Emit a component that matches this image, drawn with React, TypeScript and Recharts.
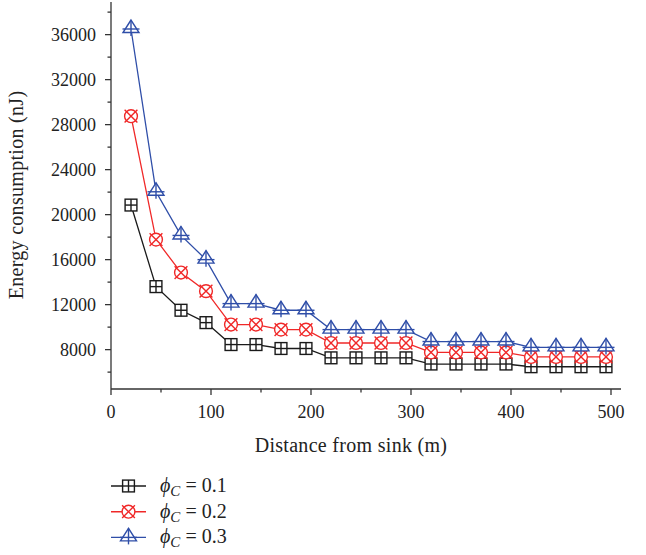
import React from 'react';
import { LineChart, Line, XAxis, YAxis, Legend, Label } from 'recharts';

const distances = [20, 45, 70, 95, 120, 145, 170, 195, 220, 245, 270, 295, 320, 345, 370, 395, 420, 445, 470, 495];
const phi01 = [20850, 13600, 11500, 10400, 8450, 8450, 8100, 8100, 7270, 7270, 7270, 7270, 6720, 6720, 6720, 6720, 6480, 6480, 6480, 6480];
const phi02 = [28750, 17780, 14850, 13200, 10230, 10230, 9780, 9780, 8590, 8590, 8590, 8590, 7750, 7750, 7750, 7750, 7350, 7350, 7350, 7350];
const phi03 = [36500, 22030, 18150, 16000, 12090, 12090, 11500, 11500, 9780, 9780, 9780, 9780, 8720, 8720, 8720, 8720, 8200, 8200, 8200, 8200];
const seriesLabels = ['0.1', '0.2', '0.3'];
const xTicks = [0, 50, 100, 150, 200, 250, 300, 350, 400, 450, 500];
const xMajorTicks = [0, 100, 200, 300, 400, 500];
const yTicks = [6000, 8000, 10000, 12000, 14000, 16000, 18000, 20000, 22000, 24000, 26000, 28000, 30000, 32000, 34000, 36000, 38000];
const yMajorTicks = [8000, 12000, 16000, 20000, 24000, 28000, 32000, 36000];

const data = distances.map((d, i) => ({ d, a: phi01[i], b: phi02[i], c: phi03[i] }));

const FONT = "'Liberation Serif', 'Times New Roman', serif";
const AXIS = '#333333';
const BLACK = '#1a1a1a';
const RED = '#f02828';
const BLUE = '#2f4ea8';

const SquareMark = ({ cx, cy, color }: any) => {
  const h = 5.9;
  return (
    <g>
      <rect x={cx - h} y={cy - h} width={2 * h} height={2 * h} fill="#fff" stroke={color} strokeWidth={1.4} />
      <line x1={cx - h} x2={cx + h} y1={cy} y2={cy} stroke={color} strokeWidth={1.4} />
      <line x1={cx} x2={cx} y1={cy - h} y2={cy + h} stroke={color} strokeWidth={1.4} />
    </g>
  );
};

const CircleMark = ({ cx, cy, color }: any) => {
  const r = 6.4;
  return (
    <g>
      <circle cx={cx} cy={cy} r={r} fill="#fff" stroke={color} strokeWidth={1.4} />
      <line x1={cx - r} x2={cx + r} y1={cy - r} y2={cy + r} stroke={color} strokeWidth={1.4} />
      <line x1={cx - r} x2={cx + r} y1={cy + r} y2={cy - r} stroke={color} strokeWidth={1.4} />
    </g>
  );
};

const TriMark = ({ cx, cy, color }: any) => {
  return (
    <g>
      <polygon points={`${cx},${cy - 9} ${cx - 8},${cy + 3.5} ${cx + 8},${cy + 3.5}`} fill="#fff" stroke={color} strokeWidth={1.4} />
      <line x1={cx - 8.5} x2={cx + 8.5} y1={cy} y2={cy} stroke={color} strokeWidth={1.4} />
      <line x1={cx} x2={cx} y1={cy - 9} y2={cy + 7} stroke={color} strokeWidth={1.4} />
    </g>
  );
};

const BottomTick = ({ x, y, payload }: any) => {
  const major = xMajorTicks.includes(payload.value);
  return (
    <g>
      <line x1={x} x2={x} y1={y} y2={y + (major ? 6 : 3.5)} stroke={AXIS} strokeWidth={1.3} />
      {major && (
        <text x={x} y={y + 29} textAnchor="middle" fontFamily={FONT} fontSize={18} fill="#222">
          {payload.value}
        </text>
      )}
    </g>
  );
};

const TopTick = ({ x, y, payload }: any) => {
  const major = xMajorTicks.includes(payload.value);
  return <line x1={x} x2={x} y1={y} y2={y + (major ? 6 : 3.5)} stroke={AXIS} strokeWidth={1.3} />;
};

const LeftTick = ({ x, y, payload }: any) => {
  const major = yMajorTicks.includes(payload.value);
  return (
    <g>
      <line x1={x} x2={x - (major ? 6 : 3.5)} y1={y} y2={y} stroke={AXIS} strokeWidth={1.3} />
      {major && (
        <text x={x - 15} y={y + 6} textAnchor="end" fontFamily={FONT} fontSize={18} fill="#222">
          {payload.value}
        </text>
      )}
    </g>
  );
};

const RightTick = ({ x, y, payload }: any) => {
  const major = yMajorTicks.includes(payload.value);
  return <line x1={x} x2={x - (major ? 6 : 3.5)} y1={y} y2={y} stroke={AXIS} strokeWidth={1.3} />;
};

const LegendBox = () => {
  const rows = [
    { color: BLACK, Mark: SquareMark },
    { color: RED, Mark: CircleMark },
    { color: BLUE, Mark: TriMark },
  ];
  return (
    <svg width={200} height={90} style={{ display: 'block' }}>
      {rows.map((r, i) => {
        const cy = 14 + i * 25.7;
        return (
          <g key={i}>
            <line x1={0} x2={35} y1={cy} y2={cy} stroke={r.color} strokeWidth={1.4} />
            <r.Mark cx={17.5} cy={cy} color={r.color} />
            <text x={49} y={cy + 6} fontFamily={FONT} fontSize={20} fill="#222">
              <tspan fontStyle="italic">ϕ</tspan>
              <tspan fontStyle="italic" fontSize={15} dy={4}>C</tspan>
              <tspan dy={-4}>{` = ${seriesLabels[i]}`}</tspan>
            </text>
          </g>
        );
      })}
    </svg>
  );
};

export default function App() {
  return (
    <div style={{ position: 'absolute', left: 0, top: 0, width: 646, height: 555, background: '#fff' }}>
      <LineChart width={646} height={555} data={data} margin={{ top: 2, right: 25, bottom: 136, left: 0 }}>
        <XAxis
          xAxisId="bottom"
          dataKey="d"
          type="number"
          domain={[0, 510]}
          ticks={xTicks}
          interval={0}
          height={30}
          tickSize={0}
          tickMargin={0}
          tick={<BottomTick />}
          axisLine={{ stroke: AXIS, strokeWidth: 1.3 }}
          tickLine={false}
        >
          <Label
            content={() => (
              <text x={351} y={452} textAnchor="middle" fontFamily={FONT} fontSize={20} letterSpacing={0.3} fill="#222">
                Distance from sink (m)
              </text>
            )}
          />
        </XAxis>
        <XAxis
          xAxisId="top"
          orientation="top"
          dataKey="d"
          type="number"
          domain={[0, 510]}
          ticks={xTicks}
          interval={0}
          height={0}
          tickSize={0}
          tickMargin={0}
          tick={<TopTick />}
          axisLine={{ stroke: AXIS, strokeWidth: 1.3 }}
          tickLine={false}
        />
        <YAxis
          yAxisId="left"
          type="number"
          domain={[4500, 38900]}
          ticks={yTicks}
          interval={0}
          width={111}
          tickSize={0}
          tickMargin={0}
          tick={<LeftTick />}
          axisLine={{ stroke: AXIS, strokeWidth: 1.3 }}
          tickLine={false}
        >
          <Label
            content={() => (
              <text
                x={0}
                y={0}
                transform="translate(23, 195) rotate(-90)"
                textAnchor="middle"
                fontFamily={FONT}
                fontSize={20}
                letterSpacing={0.3}
                fill="#222"
              >
                Energy consumption (nJ)
              </text>
            )}
          />
        </YAxis>
        <YAxis
          yAxisId="right"
          orientation="right"
          type="number"
          domain={[4500, 38900]}
          ticks={yTicks}
          interval={0}
          width={0}
          tickSize={0}
          tickMargin={0}
          tick={<RightTick />}
          axisLine={{ stroke: AXIS, strokeWidth: 1.3 }}
          tickLine={false}
        />
        <Line
          xAxisId="bottom"
          yAxisId="left"
          dataKey="a"
          stroke={BLACK}
          strokeWidth={1.3}
          dot={(p: any) => <SquareMark key={p.index} cx={p.cx} cy={p.cy} color={BLACK} />}
          isAnimationActive={false}
        />
        <Line
          xAxisId="bottom"
          yAxisId="left"
          dataKey="b"
          stroke={RED}
          strokeWidth={1.3}
          dot={(p: any) => <CircleMark key={p.index} cx={p.cx} cy={p.cy} color={RED} />}
          isAnimationActive={false}
        />
        <Line
          xAxisId="bottom"
          yAxisId="left"
          dataKey="c"
          stroke={BLUE}
          strokeWidth={1.3}
          dot={(p: any) => <TriMark key={p.index} cx={p.cx} cy={p.cy} color={BLUE} />}
          isAnimationActive={false}
        />
        <Legend
          layout="vertical"
          align="center"
          verticalAlign="middle"
          content={() => <LegendBox />}
          wrapperStyle={{ position: 'absolute', left: 111, top: 472, width: 200, height: 90 }}
        />
      </LineChart>
    </div>
  );
}
